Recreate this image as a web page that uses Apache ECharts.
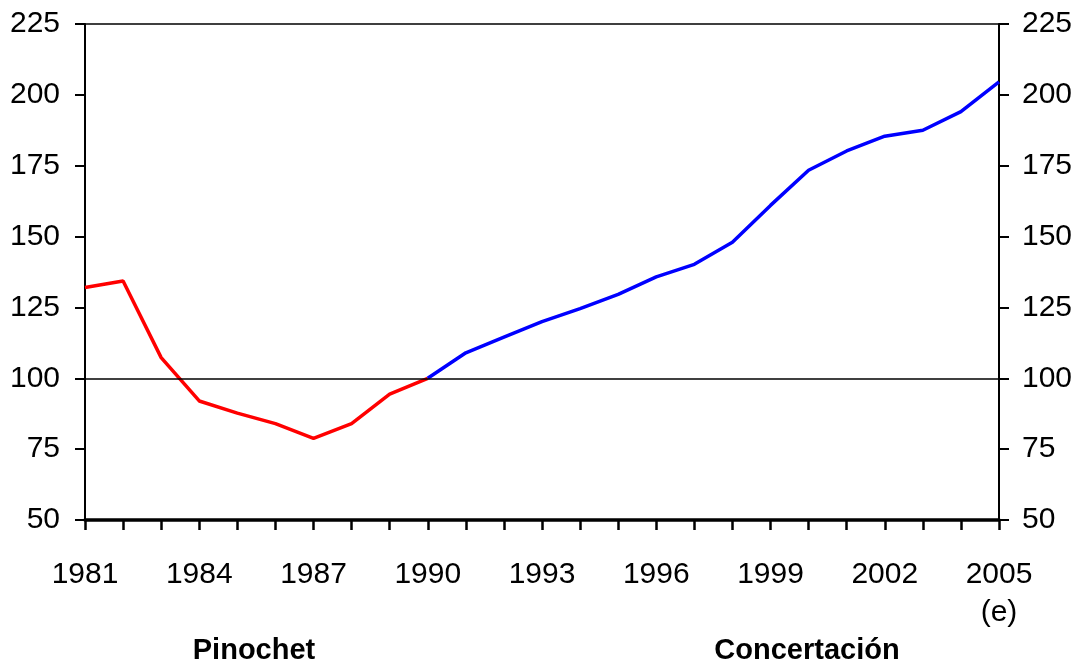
<!DOCTYPE html>
<html>
<head>
<meta charset="UTF-8">
<title>Chart</title>
<script src="https://cdn.jsdelivr.net/npm/echarts@6/dist/echarts.min.js"></script>
<style>
  html, body { margin: 0; padding: 0; background: #fff; }
  #main { width: 1080px; height: 669px; }
</style>
</head>
<body>
<div id="main"></div>
<script>
// years on the x axis
var years = [];
for (var y = 1981; y <= 2005; y++) years.push(String(y));

// index values (1990 = 100)
var pinochet = [132.0, 134.3, 107.3, 92.0, 87.7, 84.0, 78.8, 84.0, 94.4, 100.0];            // 1981-1990
var concertacion = [100.0, 109.0, 114.5, 120.0, 124.6, 129.6, 135.8, 140.2, 148.0, 161.0,
                    173.4, 180.2, 185.4, 187.5, 194.1, 204.6];                                 // 1990-2005
var yTicks = [50, 75, 100, 125, 150, 175, 200, 225];

// pad the two pieces so they sit on the same year axis
var redData = years.map(function (yr, i) { return i < pinochet.length ? pinochet[i] : null; });
var blueData = years.map(function (yr, i) {
    var k = i - (pinochet.length - 1);
    return k >= 0 ? concertacion[k] : null;
});

var font = 'Liberation Sans, Arial, sans-serif';
var myChart = echarts.init(document.getElementById('main'));

var yAxisBase = function (pos, margin) {
    return {
        type: 'value',
        position: pos,
        min: yTicks[0],
        max: yTicks[yTicks.length - 1],
        interval: 25,
        splitLine: { show: false },
        axisLine: { show: true, lineStyle: { color: '#000', width: 2 } },
        axisTick: { show: true, length: 10, lineStyle: { color: '#000', width: 2 } },
        axisLabel: { color: '#000', fontSize: 30, fontFamily: font, margin: margin }
    };
};

var option = {
    animation: false,
    grid: {
        left: 85, right: 81, top: 24, bottom: 149,
        show: true, borderColor: '#000', borderWidth: 1.5,
        containLabel: false
    },
    xAxis: {
        type: 'category',
        data: years,
        boundaryGap: false,
        axisLine: { lineStyle: { color: '#000', width: 3.5 } },
        axisTick: { show: true, interval: 0, length: 10, lineStyle: { color: '#000', width: 2.5 } },
        axisLabel: {
            interval: 2,
            color: '#000', fontSize: 30, fontFamily: font, margin: 36, lineHeight: 38,
            formatter: function (v) { return v === '2005' ? '2005\n(e)' : v; }
        },
        splitLine: { show: false }
    },
    yAxis: [yAxisBase('left', 25), yAxisBase('right', 23)],
    series: [
        {
            name: 'Pinochet',
            type: 'line',
            data: redData,
            showSymbol: false,
            lineStyle: { color: '#ff0000', width: 3.5 },
            itemStyle: { color: '#ff0000' },
            markLine: {
                silent: true,
                symbol: 'none',
                label: { show: false },
                lineStyle: { color: '#000', width: 1.5, type: 'solid' },
                data: [{ yAxis: 100 }]
            },
            z: 3
        },
        {
            name: 'Concertación',
            type: 'line',
            data: blueData,
            showSymbol: false,
            lineStyle: { color: '#0000ff', width: 3.5 },
            itemStyle: { color: '#0000ff' },
            z: 3
        }
    ],
    graphic: [
        {
            type: 'text', x: 254, y: 651,
            style: { text: 'Pinochet', fontSize: 29, fontWeight: 'bold', fontFamily: font, fill: '#000', align: 'center', verticalAlign: 'middle' }
        },
        {
            type: 'text', x: 807, y: 651,
            style: { text: 'Concertación', fontSize: 29, fontWeight: 'bold', fontFamily: font, fill: '#000', align: 'center', verticalAlign: 'middle' }
        }
    ]
};

myChart.setOption(option);
</script>
</body>
</html>
